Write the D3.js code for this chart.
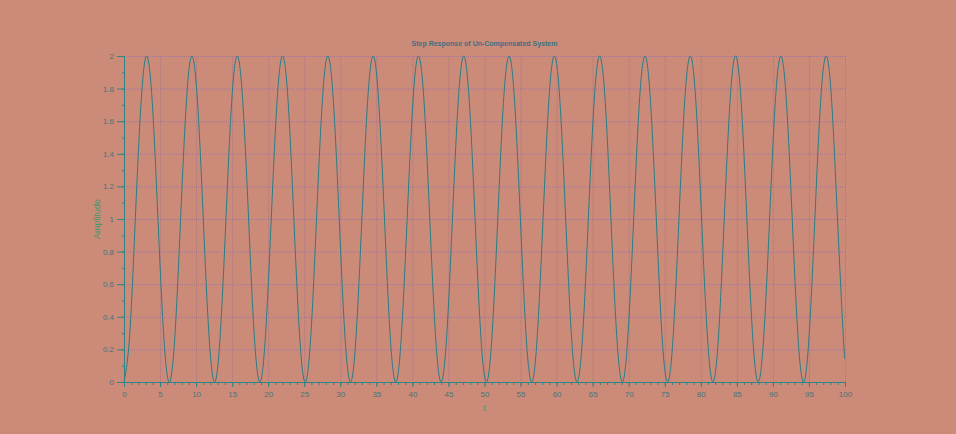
<!DOCTYPE html>
<html>
<head>
<meta charset="utf-8">
<script src="https://cdn.jsdelivr.net/npm/d3@7"></script>
<style>
  body { margin: 0; background: #cc8b79; }
  svg { display: block; }
  text { font-family: "Liberation Sans", Arial, sans-serif; }
</style>
</head>
<body>
<div id="chart"></div>
<script>
// values (t in seconds, amplitude)
var tValues = [0, 0.79, 1.57, 2.36, 3.14, 3.93, 4.71, 5.50, 6.28, 7.07, 7.85, 8.64, 9.42, 10.21, 11.00, 11.78,
    12.57, 13.35, 14.14, 14.92, 15.71, 16.49, 17.28, 18.06, 18.85, 19.63, 20.42, 21.21, 21.99, 22.78, 23.56, 24.35,
    25.13, 25.92, 26.70, 27.49, 28.27, 29.06, 29.85, 30.63, 31.42, 32.20, 32.99, 33.77, 34.56, 35.34, 36.13, 36.91,
    37.70, 38.48, 39.27, 40.06, 40.84, 41.63, 42.41, 43.20, 43.98, 44.77, 45.55, 46.34, 47.12, 47.91, 48.69, 49.48,
    50.27, 51.05, 51.84, 52.62, 53.41, 54.19, 54.98, 55.76, 56.55, 57.33, 58.12, 58.90, 59.69, 60.48, 61.26, 62.05,
    62.83, 63.62, 64.40, 65.19, 65.97, 66.76, 67.54, 68.33, 69.12, 69.90, 70.69, 71.47, 72.26, 73.04, 73.83, 74.61,
    75.40, 76.18, 76.97, 77.75, 78.54, 79.33, 80.11, 80.90, 81.68, 82.47, 83.25, 84.04, 84.82, 85.61, 86.39, 87.18,
    87.96, 88.75, 89.54, 90.32, 91.11, 91.89, 92.68, 93.46, 94.25, 95.03, 95.82, 96.60, 97.39, 98.17, 98.96, 99.75,
    100];
var amplitude = [0, 0.29, 1, 1.71, 2, 1.71, 1, 0.29, 0, 0.29, 1, 1.71, 2, 1.71, 1, 0.29,
    0, 0.29, 1, 1.71, 2, 1.71, 1, 0.29, 0, 0.29, 1, 1.71, 2, 1.71, 1, 0.29,
    0, 0.29, 1, 1.71, 2, 1.71, 1, 0.29, 0, 0.29, 1, 1.71, 2, 1.71, 1, 0.29,
    0, 0.29, 1, 1.71, 2, 1.71, 1, 0.29, 0, 0.29, 1, 1.71, 2, 1.71, 1, 0.29,
    0, 0.29, 1, 1.71, 2, 1.71, 1, 0.29, 0, 0.29, 1, 1.71, 2, 1.71, 1, 0.29,
    0, 0.29, 1, 1.71, 2, 1.71, 1, 0.29, 0, 0.29, 1, 1.71, 2, 1.71, 1, 0.29,
    0, 0.29, 1, 1.71, 2, 1.71, 1, 0.29, 0, 0.29, 1, 1.71, 2, 1.71, 1, 0.29,
    0, 0.29, 1, 1.71, 2, 1.71, 1, 0.29, 0, 0.29, 1, 1.71, 2, 1.71, 1, 0.29,
    0.14];
var xTicks = [0, 5, 10, 15, 20, 25, 30, 35, 40, 45, 50, 55, 60, 65, 70, 75, 80, 85, 90, 95, 100];
var yTicks = [0, 0.2, 0.4, 0.6, 0.8, 1, 1.2, 1.4, 1.6, 1.8, 2];

var data = tValues.map(function(t, i) { return {t: t, a: amplitude[i]} });

var W = 956, H = 434;
var margin = {top: 56, right: 111, bottom: 52, left: 124};
var width = W - margin.left - margin.right;
var height = H - margin.top - margin.bottom;

var svg = d3.select("#chart").append("svg")
    .attr("width", W)
    .attr("height", H);

svg.append("rect").attr("width", W).attr("height", H).attr("fill", "#cc8b79");

var g = svg.append("g")
    .attr("transform", "translate(" + margin.left + "," + margin.top + ")");

var x = d3.scaleLinear().domain([0, 100]).range([0, width]);
var y = d3.scaleLinear().domain([0, 2]).range([height, 0]);

var gridColor = "#a87589";
var axisColor = "#2f8585";
var labelColor = "#4a7377";

// grid
g.append("g").selectAll("line")
    .data(xTicks.filter(function(d) { return d > 0 }))
    .enter().append("line")
    .attr("x1", function(d) { return x(d) + 0.5 }).attr("x2", function(d) { return x(d) + 0.5 })
    .attr("y1", 0).attr("y2", height)
    .attr("stroke", gridColor).attr("stroke-width", 1).attr("stroke-dasharray", "1,1");

g.append("g").selectAll("line")
    .data(yTicks.filter(function(d) { return d > 0 }))
    .enter().append("line")
    .attr("x1", 0).attr("x2", width)
    .attr("y1", function(d) { return y(d) + 0.5 }).attr("y2", function(d) { return y(d) + 0.5 })
    .attr("stroke", gridColor).attr("stroke-width", 1).attr("stroke-dasharray", "1,1");

// curve
var line = d3.line()
    .x(function(d) { return x(d.t) })
    .y(function(d) { return y(d.a) })
    .curve(d3.curveNatural);

g.append("path")
    .datum(data)
    .attr("fill", "none")
    .attr("stroke", "#2a7c86")
    .attr("stroke-width", 1)
    .attr("d", line);

// x axis
var xAxis = g.append("g").attr("transform", "translate(0," + height + ")");
xAxis.call(d3.axisBottom(x).ticks(100).tickSize(3).tickFormat(""));
xAxis.append("g").call(d3.axisBottom(x).tickValues(xTicks).tickSize(5).tickFormat(d3.format("d")));
xAxis.selectAll(".domain").attr("stroke", axisColor);
xAxis.selectAll("line").attr("stroke", axisColor);
xAxis.selectAll("text").attr("fill", labelColor).style("font-size", "8px").attr("dy", "0.9em");

// y axis
var yAxis = g.append("g");
yAxis.call(d3.axisLeft(y).ticks(20).tickSize(2).tickFormat(""));
yAxis.append("g").call(d3.axisLeft(y).tickValues(yTicks).tickSize(7).tickFormat(d3.format("")));
yAxis.selectAll(".domain").attr("stroke", axisColor);
yAxis.selectAll("line").attr("stroke", axisColor);
yAxis.selectAll("text").attr("fill", labelColor).style("font-size", "8px");

// labels
svg.append("text")
    .attr("x", margin.left + width / 2)
    .attr("y", 46)
    .attr("text-anchor", "middle")
    .attr("fill", "#3e7080")
    .style("font-size", "7px")
    .style("font-weight", "bold")
    .text("Step Response of Un-Compensated System");

svg.append("text")
    .attr("x", margin.left + width / 2)
    .attr("y", 411)
    .attr("text-anchor", "middle")
    .attr("fill", "#3a9a6a")
    .style("font-size", "9px")
    .text("t");

svg.append("text")
    .attr("transform", "translate(100," + (margin.top + height / 2) + ") rotate(-90)")
    .attr("text-anchor", "middle")
    .attr("fill", "#3a9a6a")
    .style("font-size", "9px")
    .text("Amplitude");
</script>
</body>
</html>
